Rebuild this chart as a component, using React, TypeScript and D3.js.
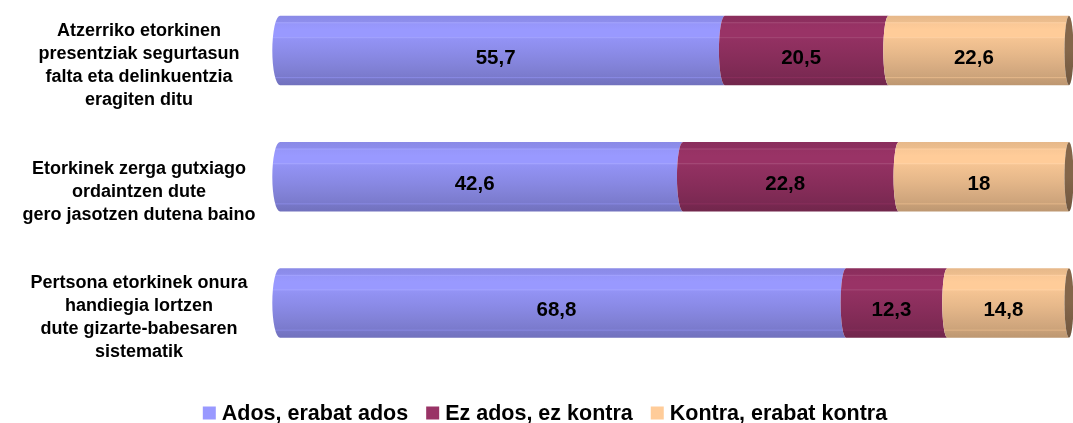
import React from "react";
import * as d3 from "d3";

const categories = [
  ["Atzerriko etorkinen", "presentziak segurtasun", "falta eta delinkuentzia", "eragiten ditu"],
  ["Etorkinek zerga gutxiago", "ordaintzen dute", "gero jasotzen dutena baino"],
  ["Pertsona etorkinek onura", "handiegia lortzen", "dute gizarte-babesaren", "sistematik"],
];
const seriesNames = ["Ados, erabat ados", "Ez ados, ez kontra", "Kontra, erabat kontra"];
const ados = [55.7, 42.6, 68.8];
const ezAdos = [20.5, 22.8, 12.3];
const kontra = [22.6, 18, 14.8];
const seriesColors = ["#9999ff", "#993366", "#ffcc99"];
const capColor = "#84664a";

const W = 1073;
const H = 423;

const stops: [number, number][] = [
  [0, 0.9], [0.09, 0.93], [0.1, 1.05], [0.115, 0.98], [0.2, 1.0], [0.3, 1.0],
  [0.31, 1.04], [0.33, 0.96], [0.55, 0.9], [0.75, 0.84], [0.88, 0.8], [0.89, 0.9],
  [0.905, 0.78], [1, 0.74],
];

function shade(c: string, k: number) {
  const col = d3.rgb(c);
  if (k <= 1) return d3.rgb(col.r * k, col.g * k, col.b * k).formatHex();
  return d3.interpolateRgb(c, "#ffffff")((k - 1) * 2.5);
}

export default function App() {
  const rows = categories.map((_, i) => ({ i, a: ados[i], b: ezAdos[i], c: kontra[i] }));
  const stack = d3.stack<any>().keys(["a", "b", "c"]).offset(d3.stackOffsetExpand);
  const stacked = stack(rows);

  const x = d3.scaleLinear().domain([0, 1]).range([280, 1069]);
  const y = d3.scalePoint<number>().domain([0, 1, 2]).range([50.5, 302.9]);
  const barH = 69.5;
  const rx = (px: number) => 7.7 - ((px - 280) / 789) * 3.2;

  const fmt = (v: number) => String(v).replace(".", ",");
  const values = [ados, ezAdos, kontra];

  const bodyPath = (x0: number, x1: number, cy: number) => {
    const y0 = cy - barH / 2;
    const y1 = cy + barH / 2;
    const ry = barH / 2;
    return `M${x0},${y0}L${x1},${y0}A${rx(x1)},${ry} 0 0 0 ${x1},${y1}L${x0},${y1}A${rx(x0)},${ry} 0 0 1 ${x0},${y0}Z`;
  };

  // legend layout
  const legendFont = "bold 21.5px 'Liberation Sans', Arial, sans-serif";
  let widths = [186, 188, 217];
  if (typeof document !== "undefined") {
    const ctx = document.createElement("canvas").getContext("2d");
    if (ctx) {
      ctx.font = legendFont;
      widths = seriesNames.map((n) => ctx.measureText(n).width);
    }
  }
  const sq = 13, gapT = 6, gapI = 18;
  const total = d3.sum(widths) + 3 * (sq + gapT) + 2 * gapI;
  let lx = 545 - total / 2;
  const legendItems = seriesNames.map((n, i) => {
    const item = { n, i, x: lx };
    lx += sq + gapT + widths[i] + gapI;
    return item;
  });

  return (
    <div style={{ position: "fixed", left: 0, top: 0 }}>
      <svg width={W} height={H} style={{ display: "block" }} fontFamily="'Liberation Sans', Arial, sans-serif">
        <defs>
          {seriesColors.map((c, i) => (
            <linearGradient key={i} id={`g${i}`} x1="0" y1="0" x2="0" y2="1">
              {stops.map(([o, k], j) => (
                <stop key={j} offset={o} stopColor={shade(c, k)} />
              ))}
            </linearGradient>
          ))}
          <linearGradient id="gcap" x1="0" y1="0" x2="0" y2="1">
            <stop offset={0} stopColor={shade(capColor, 1.0)} />
            <stop offset={0.5} stopColor={capColor} />
            <stop offset={1} stopColor={shade(capColor, 0.85)} />
          </linearGradient>
        </defs>

        {stacked.map((s, si) =>
          s.map((d, ri) => (
            <path key={`${si}-${ri}`} d={bodyPath(x(d[0]), x(d[1]), y(ri)!)} fill={`url(#g${si})`} />
          ))
        )}
        {rows.map((r, ri) => (
          <ellipse key={`cap${ri}`} cx={x(1)} cy={y(ri)!} rx={rx(x(1))} ry={barH / 2} fill="url(#gcap)" />
        ))}

        {stacked.map((s, si) =>
          s.map((d, ri) => {
            const x0 = x(d[0]);
            const x1 = x(d[1]);
            const cx = (x0 - rx(x0) + x1 - rx(x1)) / 2;
            return (
              <text key={`t${si}-${ri}`} x={cx} y={y(ri)! + 13.5} textAnchor="middle" fontSize={20.5} fontWeight="bold" fill="#000">
                {fmt(values[si][ri])}
              </text>
            );
          })
        )}

        {categories.map((lines, ri) => {
          const cy = y(ri)! + 13.5;
          return (
            <text key={`c${ri}`} textAnchor="middle" fontSize={18} fontWeight="bold" fill="#000">
              {lines.map((l, li) => (
                <tspan key={li} x={139} y={cy + (li - (lines.length - 1) / 2) * 23 + 6.5}>
                  {l}
                </tspan>
              ))}
            </text>
          );
        })}

        {legendItems.map((it) => (
          <g key={it.i}>
            <rect x={it.x} y={406.5} width={sq} height={13} fill={seriesColors[it.i]} />
            <text x={it.x + sq + gapT} y={419.5} style={{ font: legendFont }} fill="#000">
              {it.n}
            </text>
          </g>
        ))}
      </svg>
    </div>
  );
}
